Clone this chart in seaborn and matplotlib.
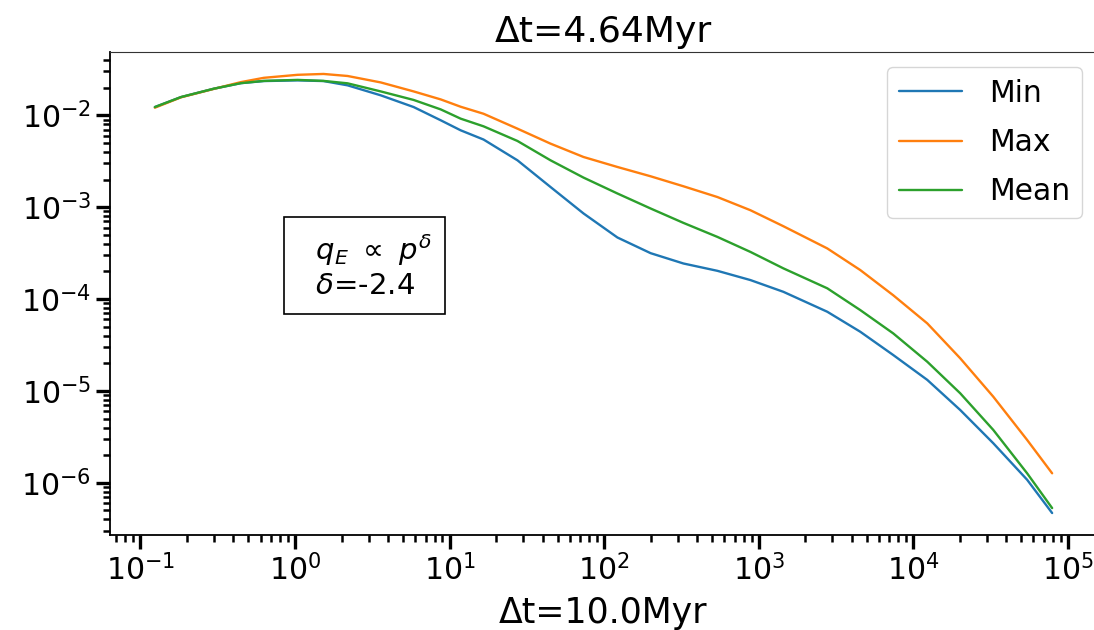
import numpy as np
import pandas as pd
import matplotlib
matplotlib.use("Agg")
import matplotlib.pyplot as plt
import seaborn as sns

# ---- data ----
x_vals = [0.124, 0.183, 0.299, 0.447, 0.629, 1.04, 1.53, 2.19, 3.59, 5.86,
          8.77, 11.8, 16.6, 27.5, 45.0, 73.6, 122, 200, 326, 541,
          885, 1445, 2780, 4545, 7430, 12330, 20140, 32960, 54600, 79250]
min_vals = [0.0123, 0.0158, 0.0195, 0.0224, 0.0236, 0.0240, 0.0236, 0.0212, 0.0165, 0.0123,
            0.00883, 0.00687, 0.00545, 0.00324, 0.00166, 0.000855, 0.000468, 0.000316, 0.000244, 0.000203,
            0.000161, 0.000120, 7.28e-5, 4.41e-5, 2.46e-5, 1.32e-5, 6.21e-6, 2.70e-6, 1.08e-6, 4.69e-7]
max_vals = [0.0121, 0.0157, 0.0194, 0.0230, 0.0256, 0.0276, 0.0282, 0.0268, 0.0228, 0.0182,
            0.0149, 0.0124, 0.0104, 0.00716, 0.00492, 0.00352, 0.00274, 0.00217, 0.00169, 0.00129,
            0.000927, 0.000621, 0.000356, 0.000207, 0.000110, 5.44e-5, 2.27e-5, 8.67e-6, 2.93e-6, 1.27e-6]
mean_vals = [0.0123, 0.0158, 0.0195, 0.0224, 0.0237, 0.0243, 0.0237, 0.0223, 0.0182, 0.0147,
             0.0116, 0.00920, 0.00759, 0.00526, 0.00324, 0.00210, 0.00141, 0.000968, 0.000675, 0.000475,
             0.000326, 0.000216, 0.000131, 7.59e-5, 4.23e-5, 2.08e-5, 9.44e-6, 3.77e-6, 1.27e-6, 5.31e-7]
series_names = ["Min", "Max", "Mean"]
x_ticks = [1e-1, 1e0, 1e1, 1e2, 1e3, 1e4, 1e5]
y_ticks = [1e-6, 1e-5, 1e-4, 1e-3, 1e-2]
title_text = "Δt=4.64Myr"
xlabel_text = "Δt=10.0Myr"
box_text = "  $q_E\\ \\propto\\ p^{\\delta}$\n  $\\delta$=-2.4"

sns.set_style("ticks")
plt.rcParams["font.family"] = ["DejaVu Sans"]
plt.rcParams["mathtext.fontset"] = "dejavusans"
for key in ["text.color", "axes.labelcolor", "xtick.color", "ytick.color",
            "xtick.labelcolor", "ytick.labelcolor"]:
    plt.rcParams[key] = "black"

df = pd.DataFrame({
    "x": np.tile(x_vals, 3),
    "y": np.concatenate([min_vals, max_vals, mean_vals]),
    "series": np.repeat(series_names, len(x_vals)),
})

fig = plt.figure(figsize=(10.94, 6.30), dpi=100)
ax = fig.add_axes([110 / 1094, 95 / 630, 987 / 1094, 483 / 630])

palette = dict(zip(series_names, sns.color_palette("tab10", 3)))
sns.lineplot(data=df, x="x", y="y", hue="series", hue_order=series_names,
             palette=palette, linewidth=1.7, ax=ax, legend=False, sort=False)
for name in series_names:
    ax.plot([], [], color=palette[name], linewidth=1.7, label=name)

ax.set_xscale("log")
ax.set_yscale("log")
ax.set_xticks(x_ticks)
ax.set_yticks(y_ticks)

ax.set_title(title_text, fontsize=26, pad=7)
ax.set_xlabel(xlabel_text, fontsize=25, labelpad=7)
ax.set_ylabel("")

ax.tick_params(axis="both", which="major", labelsize=21.5, length=10, width=2.4,
               direction="out", colors="black")
ax.tick_params(axis="both", which="minor", length=5, width=1.8, direction="out", colors="black")

for side in ["left", "bottom"]:
    ax.spines[side].set_linewidth(1.3)
    ax.spines[side].set_color("black")
for side in ["top", "right"]:
    ax.spines[side].set_linewidth(0.8)
    ax.spines[side].set_color("#333333")

ax.legend(loc="upper right", fontsize=21.5, frameon=True, handlelength=2.1,
          labelspacing=0.68, handletextpad=0.9)

ax.text(0.1895, 0.627, box_text, transform=ax.transAxes, fontsize=21,
        ha="left", va="top",
        bbox=dict(boxstyle="square,pad=0.45", facecolor="white", edgecolor="black", linewidth=1.2))

fig.savefig("out.png", dpi=100)
